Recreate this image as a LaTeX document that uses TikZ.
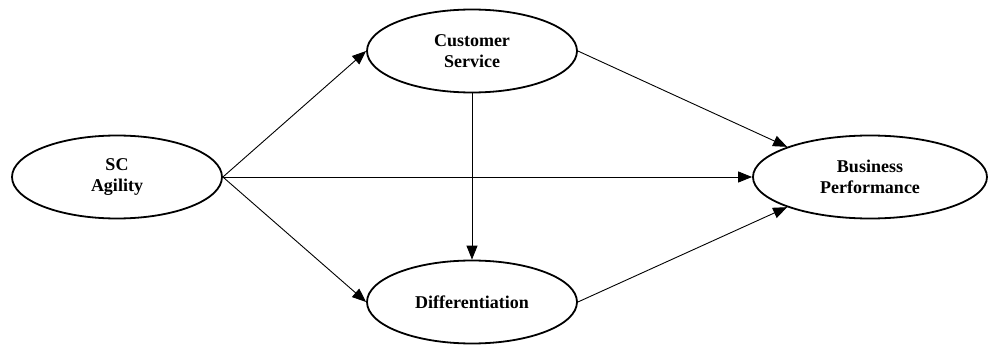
\documentclass[tikz,border=0pt]{standalone}
\usepackage{fontspec}
\setmainfont{Liberation Serif}
\usetikzlibrary{shapes.geometric,arrows.meta}
\tikzset{
  construct/.style={ellipse,draw,line width=1.8pt,inner sep=0pt,minimum width=210pt,minimum height=83pt,
    align=center,font=\fontsize{18}{21}\selectfont\bfseries},
  path/.style={line width=0.9pt,-{Triangle[length=14pt,width=11pt]}}
}
\begin{document}
\begin{tikzpicture}[x=1pt,y=-1pt]
            \useasboundingbox (0,0) rectangle (989,345);
            \node[construct] (sc) at (117,177) {SC\\Agility};
            \node[construct] (cs) at (472,51) {Customer\\Service};
            \node[construct] (diff) at (472,302) {Differentiation};
            \node[construct,minimum width=234pt] (bp) at (870,177) {Business\\Performance};

            \draw[path] (sc.east)--(cs.west);
            \draw[path] (sc.east)--(diff.west);
            \draw[path] (sc.east)--(bp.west);
            \draw[path] (cs.south)--(diff.north);
            \draw[path] (cs.east)--(bp.160);
            \draw[path] (diff.east)--(bp.200);
        \end{tikzpicture}
\end{document}
